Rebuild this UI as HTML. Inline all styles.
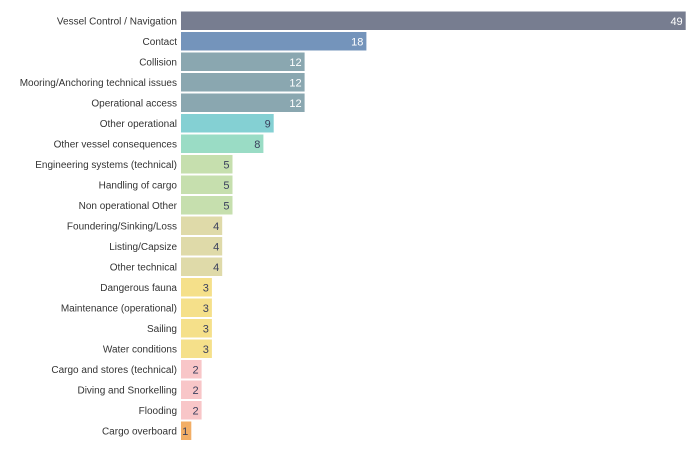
<!DOCTYPE html>
<html><head><meta charset="utf-8"><style>
html,body{margin:0;padding:0;background:#fff;}
svg{display:block;}
.l{font-family:"Liberation Sans",sans-serif;font-size:10px;fill:#333;text-anchor:end;}
.v{font-family:"Liberation Sans",sans-serif;font-size:11px;text-anchor:end;}
</style></head><body>
<svg width="696" height="457" xmlns="http://www.w3.org/2000/svg">
<g id="c"></g>
</svg>
<script>
const d=[["Vessel Control / Navigation",49,"#777d90","#fff"],["Contact",18,"#7494bb","#fff"],["Collision",12,"#8aa7b0","#fff"],["Mooring/Anchoring technical issues",12,"#8aa7b0","#fff"],["Operational access",12,"#8aa7b0","#fff"],["Other operational",9,"#84d0d3","#3a3f5c"],["Other vessel consequences",8,"#9adcc5","#3a3f5c"],["Engineering systems (technical)",5,"#c6dfae","#3a3f5c"],["Handling of cargo",5,"#c6dfae","#3a3f5c"],["Non operational Other",5,"#c6dfae","#3a3f5c"],["Foundering/Sinking/Loss",4,"#dfdaa9","#3a3f5c"],["Listing/Capsize",4,"#dfdaa9","#3a3f5c"],["Other technical",4,"#dfdaa9","#3a3f5c"],["Dangerous fauna",3,"#f5e08a","#3a3f5c"],["Maintenance (operational)",3,"#f5e08a","#3a3f5c"],["Sailing",3,"#f5e08a","#3a3f5c"],["Water conditions",3,"#f5e08a","#3a3f5c"],["Cargo and stores (technical)",2,"#f8c6c8","#3a3f5c"],["Diving and Snorkelling",2,"#f8c6c8","#3a3f5c"],["Flooding",2,"#f8c6c8","#3a3f5c"],["Cargo overboard",1,"#f2ae66","#3a3f5c"]];
let out="";
d.forEach((r,i)=>{const y=11.5+i*20.5,w=r[1]*10.3,cy=y+9.25;
out+=`<rect x="181" y="${y}" width="${w}" height="18.5" fill="${r[2]}"/>`;
out+=`<text class="l" x="177" y="${cy+3.5}">${r[0]}</text>`;
out+=`<text class="v" x="${181+w-3}" y="${cy+4}" fill="${r[3]}">${r[1]}</text>`;});
document.getElementById("c").innerHTML=out;
</script>
</body></html>
